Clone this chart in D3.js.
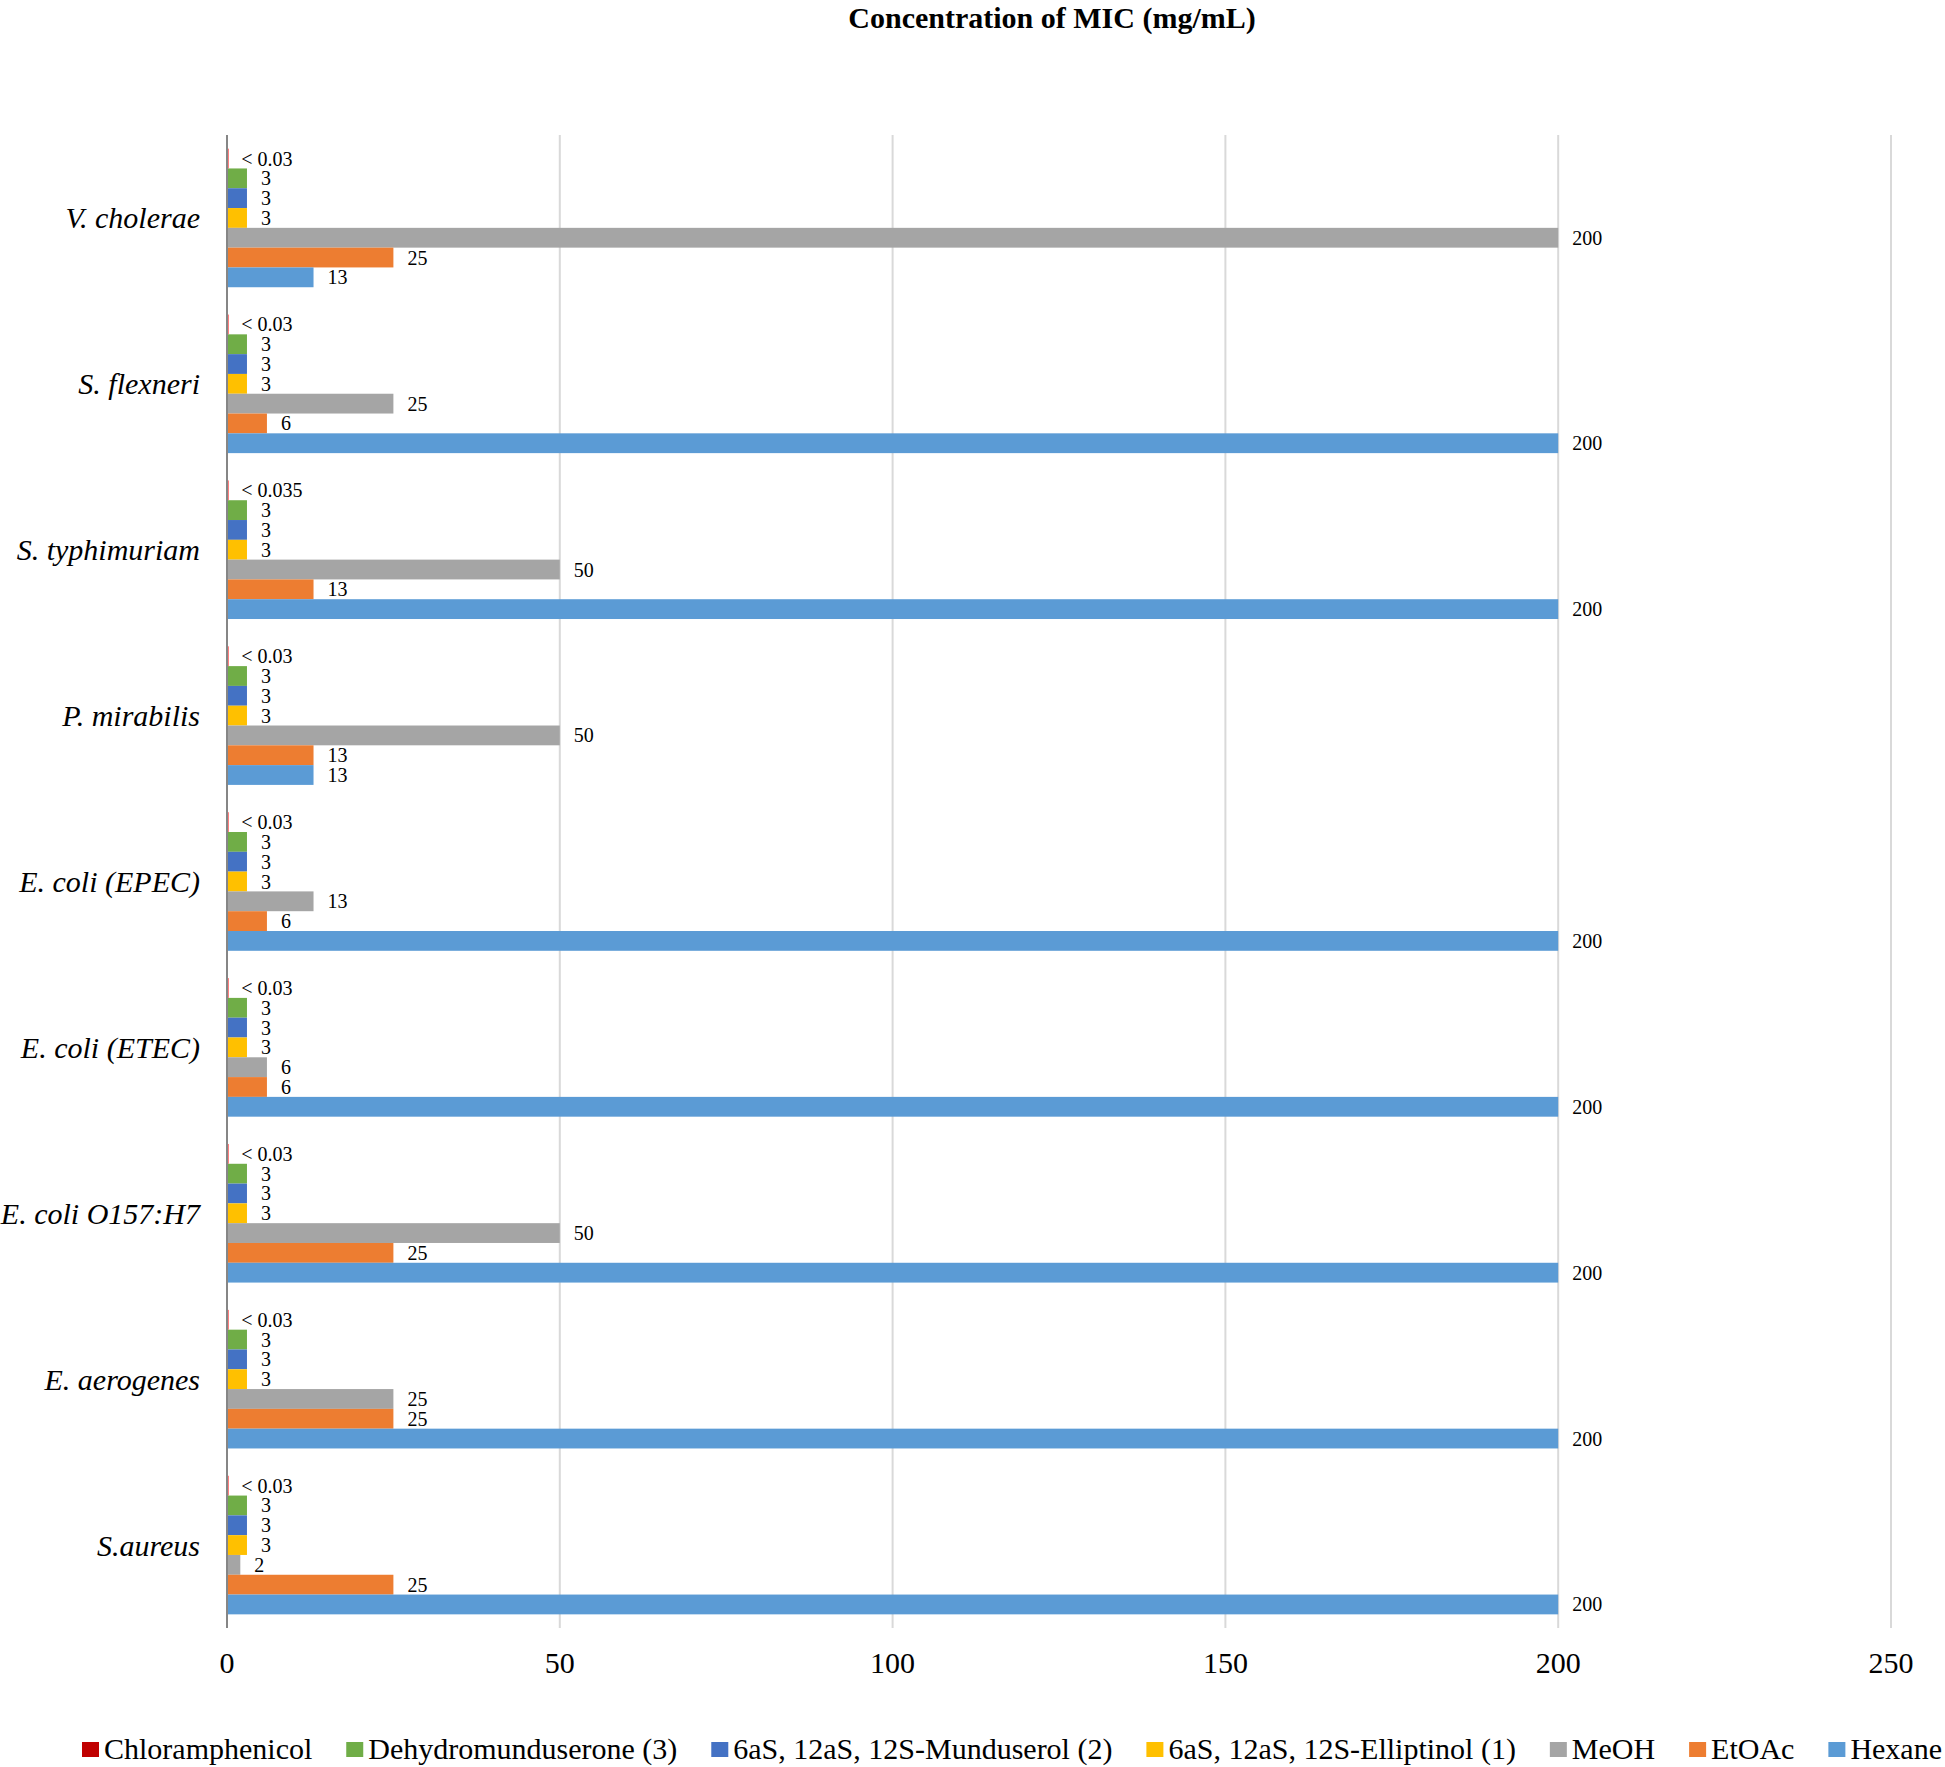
<!DOCTYPE html>
<html lang="en">
<head>
  <meta charset="UTF-8">
  <title>Concentration of MIC</title>
  <script src="https://d3js.org/d3.v7.min.js"></script>
  <style>
    body { margin: 0; background: #fff; }
    svg { font-family: "Liberation Serif", "Times New Roman", serif; }
  </style>
</head>
<body>
  <svg></svg>
  <script>
    // categories, top to bottom
    const organisms = ["V. cholerae", "S. flexneri", "S. typhimuriam", "P. mirabilis",
      "E. coli (EPEC)", "E. coli (ETEC)", "E. coli O157:H7", "E. aerogenes", "S.aureus"];

    const seriesNames = ["Chloramphenicol", "Dehydromunduserone (3)", "6aS, 12aS, 12S-Munduserol (2)",
      "6aS, 12aS, 12S-Elliptinol (1)", "MeOH", "EtOAc", "Hexane"];
    const seriesColors = ["#C00000", "#70AD47", "#4472C4", "#FFC000", "#A5A5A5", "#ED7D31", "#5B9BD5"];

    // MIC values per series, same order as organisms
    const chloramphenicol = [0.03, 0.03, 0.035, 0.03, 0.03, 0.03, 0.03, 0.03, 0.03];
    const chloramLabels = ["< 0.03", "< 0.03", "< 0.035", "< 0.03", "< 0.03", "< 0.03", "< 0.03", "< 0.03", "< 0.03"];
    const dehydromunduserone = [3, 3, 3, 3, 3, 3, 3, 3, 3];
    const munduserol = [3, 3, 3, 3, 3, 3, 3, 3, 3];
    const elliptinol = [3, 3, 3, 3, 3, 3, 3, 3, 3];
    const meoh = [200, 25, 50, 50, 13, 6, 50, 25, 2];
    const etoac = [25, 6, 13, 13, 6, 6, 25, 25, 25];
    const hexane = [13, 200, 200, 13, 200, 200, 200, 200, 200];

    const xTicks = [0, 50, 100, 150, 200, 250];

    const allValues = [chloramphenicol, dehydromunduserone, munduserol, elliptinol, meoh, etoac, hexane];

    const width = 1945, height = 1767;
    const margin = { top: 135, right: 54, bottom: 139, left: 227 };

    const svg = d3.select("svg").attr("width", width).attr("height", height);

    const x = d3.scaleLinear().domain([0, 250]).range([margin.left, width - margin.right]);
    const y = d3.scaleBand().domain(organisms)
      .range([margin.top, height - margin.bottom])
      .paddingInner(0.1646).paddingOuter(0.0823);
    const ySeries = d3.scaleBand().domain(d3.range(seriesNames.length)).range([0, y.bandwidth()]);

    // gridlines
    svg.append("g").selectAll("line")
      .data(xTicks.filter(t => t > 0))
      .enter().append("line")
      .attr("x1", d => x(d)).attr("x2", d => x(d))
      .attr("y1", margin.top).attr("y2", height - margin.bottom)
      .attr("stroke", "#d9d9d9").attr("stroke-width", 2);

    // bars
    const rows = [];
    organisms.forEach((org, i) => {
      allValues.forEach((vals, s) => {
        rows.push({
          org: org, s: s, v: vals[i],
          label: s === 0 ? chloramLabels[i] : String(vals[i])
        });
      });
    });

    const bars = svg.append("g");
    bars.selectAll("rect")
      .data(rows)
      .enter().append("rect")
      .attr("x", x(0))
      .attr("y", d => y(d.org) + ySeries(d.s))
      .attr("width", d => Math.max(x(d.v) - x(0), 1.5))
      .attr("height", ySeries.bandwidth())
      .attr("fill", d => d.s === 0 ? "#FF0000" : seriesColors[d.s]);

    bars.selectAll("text")
      .data(rows)
      .enter().append("text")
      .attr("x", d => x(d.v) + 14)
      .attr("y", d => y(d.org) + ySeries(d.s) + ySeries.bandwidth() / 2)
      .attr("dy", "0.35em")
      .attr("font-size", 20)
      .attr("fill", "#000")
      .text(d => d.label);

    // category axis line and labels
    svg.append("line")
      .attr("x1", x(0)).attr("x2", x(0))
      .attr("y1", margin.top).attr("y2", height - margin.bottom)
      .attr("stroke", "#868686").attr("stroke-width", 2);

    svg.append("g").selectAll("text")
      .data(organisms)
      .enter().append("text")
      .attr("x", 200)
      .attr("y", d => y(d) + y.bandwidth() / 2)
      .attr("dy", "0.35em")
      .attr("text-anchor", "end")
      .attr("font-size", 30)
      .attr("font-style", "italic")
      .text(d => d);

    // value axis labels
    svg.append("g").selectAll("text")
      .data(xTicks)
      .enter().append("text")
      .attr("x", d => x(d))
      .attr("y", 1673)
      .attr("text-anchor", "middle")
      .attr("font-size", 30)
      .text(d => d);

    // title
    svg.append("text")
      .attr("x", 1052)
      .attr("y", 28)
      .attr("text-anchor", "middle")
      .attr("font-size", 30)
      .attr("font-weight", "bold")
      .text("Concentration of MIC (mg/mL)");

    // legend: items flow from the left edge and fill to the right edge
    const legend = svg.append("g").attr("transform", "translate(0,1759)");
    const groups = seriesNames.map((name, i) => {
      const g = legend.append("g");
      g.append("rect").attr("x", 0).attr("y", -17).attr("width", 17).attr("height", 15)
        .attr("fill", seriesColors[i]);
      const t = g.append("text").attr("x", 22).attr("y", 0).attr("font-size", 30).text(name);
      return { g: g, w: 22 + t.node().getComputedTextLength() };
    });
    const legStart = 82, legEnd = 1942;
    const sumW = d3.sum(groups, d => d.w);
    const gap = (legEnd - legStart - sumW) / (groups.length - 1);
    let lx = legStart;
    groups.forEach(d => {
      d.g.attr("transform", `translate(${lx},0)`);
      lx += d.w + gap;
    });
  </script>
</body>
</html>
